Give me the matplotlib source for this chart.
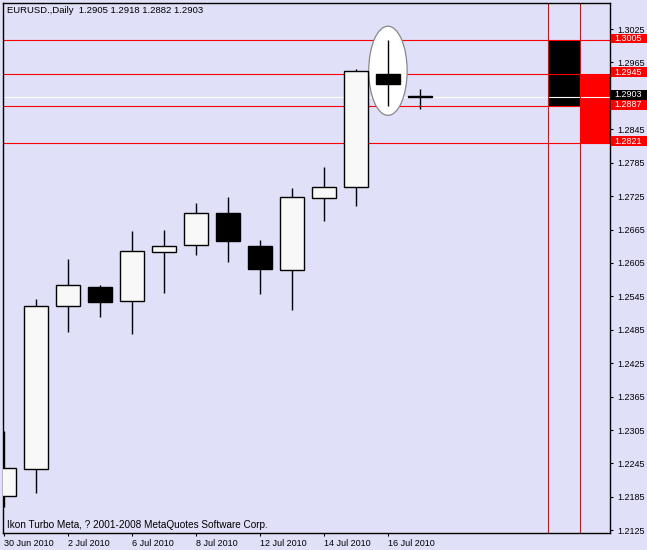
import matplotlib
matplotlib.use("Agg")
import matplotlib.pyplot as plt
from matplotlib.patches import Rectangle, Ellipse
import matplotlib.transforms as mtransforms

# EURUSD daily candles
dates = ['30 Jun', '1 Jul', '2 Jul', '5 Jul', '6 Jul', '7 Jul', '8 Jul',
         '9 Jul', '12 Jul', '13 Jul', '14 Jul', '15 Jul', '16 Jul', '19 Jul']
opens = [1.2186, 1.2235, 1.2527, 1.2561, 1.2537, 1.2625, 1.2638,
         1.2695, 1.2636, 1.2593, 1.2722, 1.2742, 1.2945, 1.2905]
highs = [1.2303, 1.2540, 1.2612, 1.2565, 1.2662, 1.2664, 1.2712,
         1.2723, 1.2647, 1.2739, 1.2777, 1.2954, 1.3005, 1.2918]
lows = [1.2166, 1.2192, 1.2481, 1.2508, 1.2477, 1.2551, 1.2619,
        1.2607, 1.2549, 1.2521, 1.2680, 1.2707, 1.2887, 1.2882]
closes = [1.2236, 1.2527, 1.2566, 1.2535, 1.2626, 1.2636, 1.2695,
          1.2644, 1.2594, 1.2724, 1.2742, 1.2949, 1.2926, 1.2903]

date_ticks = [0, 2, 4, 6, 8, 10, 12]
date_labels = ['30 Jun 2010', '2 Jul 2010', '6 Jul 2010', '8 Jul 2010',
               '12 Jul 2010', '14 Jul 2010', '16 Jul 2010']

price_ticks = [1.3025, 1.2965, 1.2905, 1.2845, 1.2785, 1.2725, 1.2665, 1.2605,
               1.2545, 1.2485, 1.2425, 1.2365, 1.2305, 1.2245, 1.2185, 1.2125]
hidden_tick = 1.2905  # covered by the last price box

red_levels = [1.3005, 1.2945, 1.2887, 1.2821]
last_price = 1.2903
zone_black = (1.2887, 1.3005)
zone_red = (1.2821, 1.2945)

BG = '#E0E0F8'
FONT = 'Liberation Sans'
FS = 6.5
PX = 1 / 5570  # price per pixel

fig = plt.figure(figsize=(6.47, 5.5), dpi=100, facecolor=BG)
ax = fig.add_axes([3 / 647, 17 / 550, 606.5 / 647, 530 / 550], facecolor=BG)
ax.set_xlim(-0.031, 18.925)
ax.set_ylim(1.21202, 1.30717)

# right-side zones
ax.add_patch(Rectangle((17, zone_black[0]), 1, zone_black[1] - zone_black[0],
                       facecolor='black', edgecolor='none', zorder=1))
ax.add_patch(Rectangle((18, zone_red[0]), 2, zone_red[1] - zone_red[0],
                       facecolor='#FF0000', edgecolor='none', zorder=1))

# level lines
for lv in red_levels:
    ax.axhline(lv, color='#FF0000', lw=0.8, zorder=2)
ax.axhline(last_price, color='white', lw=0.8, zorder=2)
ax.axvline(17, color='#FF0000', lw=0.8, zorder=2)
ax.axvline(18, color='#FF0000', lw=0.8, zorder=2)

# highlight ellipse around 16 Jul
ax.add_patch(Ellipse((12, 1.2950), 1.2, 0.016, facecolor='white',
                     edgecolor='#888888', lw=0.9, zorder=3))

# candles
w = 0.75
for i in range(len(dates)):
    o, h, l, c = opens[i], highs[i], lows[i], closes[i]
    ax.vlines(i, l, h, color='black', lw=1.0, zorder=4)
    face = '#F8F8F8' if c >= o else 'black'
    ax.add_patch(Rectangle((i - w / 2, min(o, c)), w, max(abs(c - o), 0.00002),
                           facecolor=face, edgecolor='black', lw=1.0, zorder=5))

# axes styling
for s in ax.spines.values():
    s.set_color('black')
    s.set_linewidth(1.0)
ax.yaxis.tick_right()
ax.set_yticks(price_ticks)
ax.set_yticklabels(['' if p == hidden_tick else f'{p:.4f}' for p in price_ticks],
                   fontfamily=FONT, fontsize=FS)
ax.tick_params(axis='y', direction='out', length=2.5, width=0.8, pad=3)
ax.set_xticks(date_ticks)
ax.set_xticklabels(date_labels, fontfamily=FONT, fontsize=FS, ha='left')
ax.tick_params(axis='x', direction='out', length=2.5, width=0.8, pad=2)

# price boxes on the right scale (offset in pixels above the level)
trans = mtransforms.blended_transform_factory(ax.transAxes, ax.transData)
boxes = [(1.3005, '#FF0000', 1.6), (1.2945, '#FF0000', 1.4), (1.2903, 'black', 2.0),
         (1.2887, '#FF0000', 0.9), (1.2821, '#FF0000', 1.5)]
bh = 9.5 * PX
for p, col, off in boxes:
    yc = p + off * PX
    ax.add_patch(Rectangle((1.0028, yc - bh / 2), 0.07, bh, transform=trans,
                           facecolor=col, edgecolor='none', clip_on=False, zorder=10))
    ax.text(1.0072, yc, f'{p:.4f}', transform=trans, color='white',
            fontfamily=FONT, fontsize=FS, ha='left', va='center', zorder=11)

ax.text(0.007, 0.985, 'EURUSD.,Daily  1.2905 1.2918 1.2882 1.2903', transform=ax.transAxes,
        fontfamily=FONT, fontsize=6.8, ha='left', va='center', color='black')
ax.text(0.006, 0.015, 'Ikon Turbo Meta, ? 2001-2008 MetaQuotes Software Corp.',
        transform=ax.transAxes, fontfamily=FONT, fontsize=7.2, ha='left', va='center',
        color='black')

fig.savefig('out.png', dpi=100, facecolor=BG)
